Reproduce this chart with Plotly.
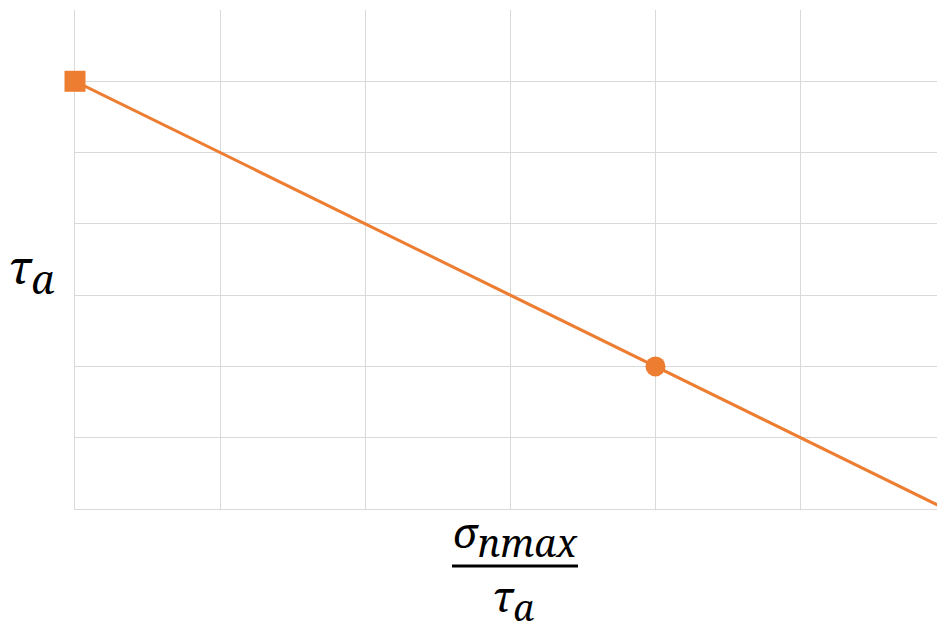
import plotly.graph_objects as go

# Straight-line relation and its two marked points
line_x = [0, 6]
line_y = [6, 0]
start_x = [0]
start_y = [6]
point_x = [4]
point_y = [2]

orange = "#ED7D31"
grid = "#D9D9D9"
font_family = "Noto Serif"

fig = go.Figure()
fig.add_trace(go.Scatter(x=line_x, y=line_y, mode="lines",
                         line=dict(color=orange, width=3), hoverinfo="skip"))
fig.add_trace(go.Scatter(x=start_x, y=start_y, mode="markers", cliponaxis=False,
                         marker=dict(symbol="square", size=21, color=orange)))
fig.add_trace(go.Scatter(x=point_x, y=point_y, mode="markers", cliponaxis=False,
                         marker=dict(symbol="circle", size=20, color=orange)))

W, H = 937, 621
ml, mr, mt, mb = 75, 0, 10, 112
pw, ph = W - ml - mr, H - mt - mb


def px(x):
    return (x - ml) / pw


def py(y):
    return (H - mb - y) / ph


fig.update_layout(
    width=W, height=H,
    margin=dict(l=ml, r=mr, t=mt, b=mb),
    paper_bgcolor="white", plot_bgcolor="white",
    showlegend=False,
    xaxis=dict(range=[0, 5.94], dtick=1, showticklabels=False, ticks="",
               showgrid=True, gridcolor=grid, gridwidth=1, zeroline=False,
               showline=True, linecolor=grid, linewidth=1, layer="below traces"),
    yaxis=dict(range=[0, 7], dtick=1, showticklabels=False, ticks="",
               showgrid=True, gridcolor=grid, gridwidth=1, zeroline=False,
               showline=True, linecolor=grid, linewidth=1, layer="below traces"),
)


def math_label(base, sub, sub_size):
    return (f"<i>{base}</i><sub><span style='font-size:{sub_size}px'>"
            f"<i>{sub}</i></span></sub>")


# Axis titles written as math-style italic text
fig.add_annotation(xref="paper", yref="paper", x=px(31), y=py(270),
                   text=math_label("τ", "a", 40), showarrow=False,
                   font=dict(size=46, family=font_family, color="black"),
                   xanchor="center", yanchor="middle")
fig.add_annotation(xref="paper", yref="paper", x=px(515), y=py(535),
                   text=math_label("σ", "nmax", 38), showarrow=False,
                   font=dict(size=42, family=font_family, color="black"),
                   xanchor="center", yanchor="middle")
fig.add_annotation(xref="paper", yref="paper", x=px(513), y=py(599),
                   text=math_label("τ", "a", 36), showarrow=False,
                   font=dict(size=42, family=font_family, color="black"),
                   xanchor="center", yanchor="middle")
fig.add_shape(type="line", xref="paper", yref="paper",
              x0=px(452), x1=px(578), y0=py(566), y1=py(566),
              line=dict(color="black", width=3))

fig.write_html("out.html")
